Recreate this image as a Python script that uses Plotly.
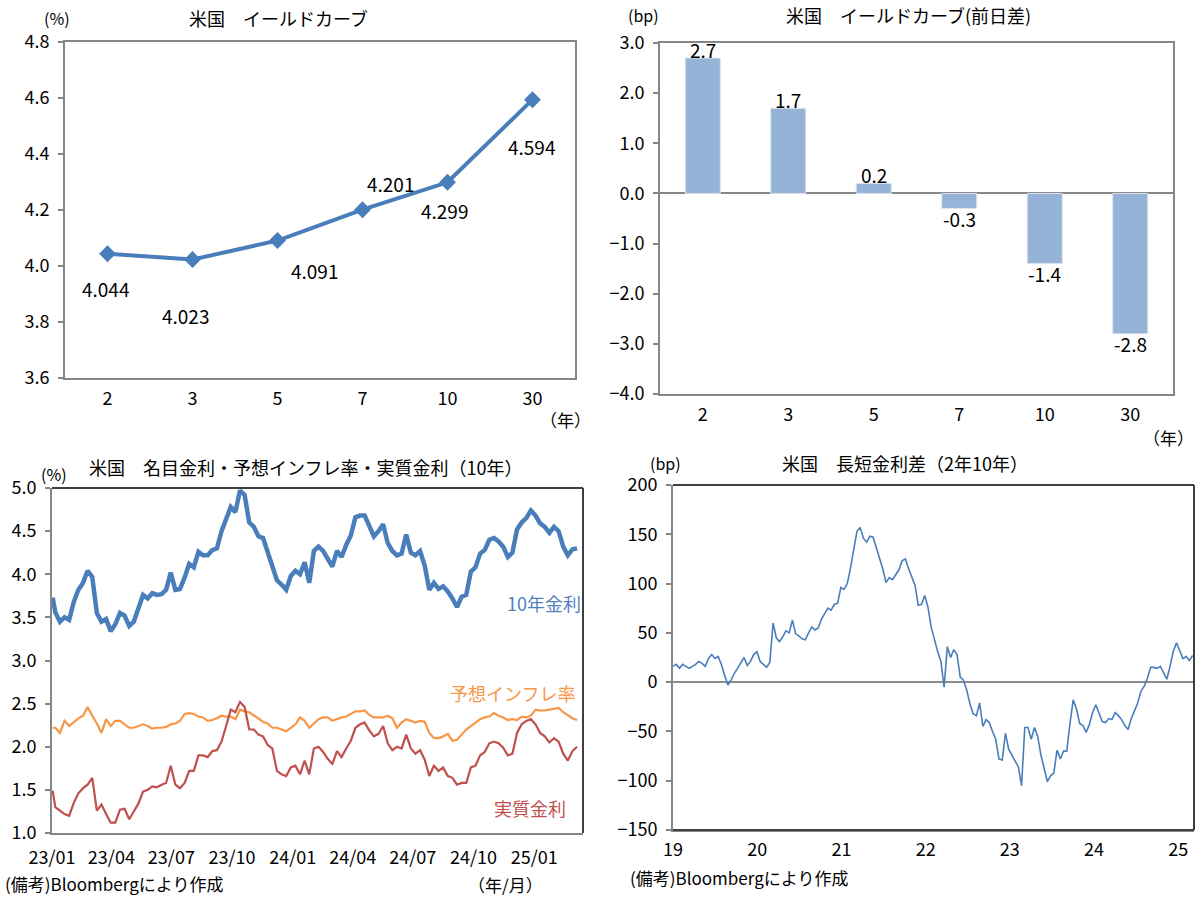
import pandas as pd
import plotly.graph_objects as go

# ---------------- data ----------------
# Panel 1: US yield curve
MATURITIES = ["2", "3", "5", "7", "10", "30"]
YIELDS = [4.044, 4.023, 4.091, 4.201, 4.299, 4.594]

# Panel 2: day-over-day change (bp)
CHANGE_BP = [2.7, 1.7, 0.2, -0.3, -1.4, -2.8]

DATES3 = (["2023-01-02"]
          + [d.strftime("%Y-%m-%d") for d in pd.date_range("2023-01-06", periods=113, freq="7D")]
          + ["2025-03-07"])
NOMINAL10 = [3.73,
    3.56, 3.45, 3.50, 3.47, 3.68, 3.82, 3.90, 4.04, 3.97, 3.55, 3.45, 3.48, 3.34, 3.42, 3.55, 3.52,
    3.40, 3.45, 3.62, 3.76, 3.72, 3.78, 3.76, 3.77, 3.82, 4.02, 3.82, 3.83, 3.96, 4.12, 4.08, 4.26,
    4.22, 4.22, 4.28, 4.30, 4.50, 4.66, 4.78,
    4.72, 4.97, 4.92, 4.60, 4.55, 4.44, 4.42, 4.26, 4.13, 3.93, 3.88, 3.82, 3.98, 4.04, 4.00, 4.14,
    3.90, 4.27, 4.32, 4.27, 4.18, 4.09, 4.27, 4.20, 4.34, 4.45, 4.66, 4.68, 4.68, 4.56, 4.44, 4.50,
    4.58, 4.36, 4.27, 4.22, 4.24, 4.46,
    4.25, 4.22, 4.27, 4.10, 3.82, 3.90, 3.83, 3.86, 3.80, 3.72, 3.62, 3.74, 3.76, 4.03, 4.08, 4.24,
    4.28, 4.40, 4.42, 4.38, 4.32, 4.20, 4.25, 4.52, 4.60, 4.65, 4.74, 4.68, 4.59, 4.55, 4.48, 4.55,
    4.50, 4.32, 4.22, 4.29,
    4.30]
BREAKEVEN10 = [2.22,
    2.22, 2.16, 2.30, 2.24, 2.29, 2.33, 2.36, 2.46, 2.36, 2.27, 2.16, 2.32, 2.24, 2.30, 2.30, 2.26,
    2.22, 2.22, 2.24, 2.26, 2.24, 2.21, 2.22, 2.22, 2.23, 2.26, 2.27, 2.30, 2.38, 2.39, 2.38, 2.35,
    2.34, 2.30, 2.31, 2.33, 2.36, 2.35, 2.35,
    2.32, 2.43, 2.41, 2.40, 2.36, 2.32, 2.29, 2.27, 2.22, 2.22, 2.20, 2.18, 2.22, 2.26, 2.34, 2.30,
    2.22, 2.27, 2.32, 2.34, 2.34, 2.30, 2.32, 2.34, 2.35, 2.38, 2.41, 2.41, 2.42, 2.37, 2.34, 2.34,
    2.34, 2.36, 2.33, 2.22, 2.28, 2.32,
    2.30, 2.28, 2.30, 2.29, 2.16, 2.10, 2.10, 2.12, 2.15, 2.07, 2.08, 2.14, 2.20, 2.24, 2.28, 2.32,
    2.34, 2.35, 2.39, 2.36, 2.34, 2.31, 2.32, 2.31, 2.35, 2.34, 2.36, 2.43, 2.42, 2.42, 2.43, 2.44,
    2.45, 2.40, 2.36, 2.33,
    2.31]
REAL10 = [1.49,
    1.30, 1.26, 1.22, 1.20, 1.35, 1.46, 1.52, 1.56, 1.64, 1.26, 1.33, 1.22, 1.12, 1.12, 1.27, 1.28,
    1.16, 1.25, 1.34, 1.48, 1.50, 1.54, 1.53, 1.56, 1.58, 1.78, 1.56, 1.52, 1.58, 1.72, 1.72, 1.90,
    1.90, 1.88, 1.95, 1.96, 2.06, 2.24, 2.43,
    2.40, 2.52, 2.46, 2.20, 2.20, 2.14, 2.12, 2.02, 1.98, 1.72, 1.68, 1.66, 1.76, 1.78, 1.68, 1.84,
    1.68, 1.98, 2.00, 1.94, 1.86, 1.80, 1.95, 1.88, 1.98, 2.07, 2.22, 2.26, 2.28, 2.19, 2.12, 2.15,
    2.24, 2.04, 1.96, 2.00, 1.98, 2.14,
    1.98, 1.92, 1.96, 1.85, 1.66, 1.78, 1.72, 1.76, 1.66, 1.64, 1.56, 1.58, 1.58, 1.76, 1.78, 1.90,
    1.94, 2.04, 2.06, 2.04, 1.99, 1.90, 1.92, 2.16, 2.26, 2.30, 2.32, 2.26, 2.16, 2.12, 2.05, 2.10,
    2.06, 1.92, 1.84, 1.95,
    2.00]

# Panel 4: 2y-10y spread (bp), every 14 days from 2019-01-01
DATES4 = [d.strftime("%Y-%m-%d") for d in pd.date_range("2019-01-01", periods=162, freq="14D")]
SPREAD_BP = [
    16, 18, 14, 18, 16, 14, 16, 18, 21, 19,
    16, 24, 28, 24, 26, 18, 7, -3, 2, 9,
    14, 19, 25, 17, 21, 28, 31, 21, 18, 15,
    20, 60, 45, 41, 46, 52, 50, 63, 49, 47,
    44, 43, 50, 56, 53, 55, 64, 70, 75, 73,
    79, 80, 96, 94, 100, 116, 136, 153, 157, 146,
    142, 148, 147, 137, 125, 115, 101, 106, 104, 109,
    114, 123, 125, 115, 106, 98, 78, 79, 88, 76,
    56, 43, 31, 21, -5, 36, 25, 33, 28, 5,
    2, -8, -22, -32, -34, -21, -45, -38, -41, -50,
    -58, -78, -79, -52, -68, -74, -80, -86, -105, -46,
    -46, -58, -46, -55, -74, -88, -101, -95, -92, -69,
    -78, -70, -70, -42, -18, -27, -42, -44, -51, -43,
    -31, -23, -32, -40, -41, -37, -38, -31, -34, -38,
    -44, -48, -37, -28, -21, -9, -4, 4, 15, 15,
    14, 16, 10, 3, 16, 31, 40, 31, 24, 26,
    22, 27]

# ---------------- style ----------------
W, H = 1200, 899
FONT = "Noto Sans CJK JP"
BLUE = "#4A7EBB"
BAR = "#95B3D7"
ORANGE = "#F79646"
RED = "#C0504D"
AXIS = "#868686"
DARK = "#3F3F3F"

# label offsets (pixels) for panel 1 data labels: (dx, dy) with dy positive = down
LABEL_OFFSETS = [(-2, 35), (-7, 56), (37, 30), (28, -26), (-3, 28), (-1, 47)]


def px(x):
    return x / W


def py(y):
    return 1 - y / H


fig = go.Figure()

# Panel 1
fig.add_trace(go.Scatter(x=MATURITIES, y=YIELDS, mode="lines+markers",
                         line=dict(color=BLUE, width=4),
                         marker=dict(symbol="diamond", size=13, color=BLUE),
                         xaxis="x", yaxis="y", cliponaxis=False))
# Panel 2
fig.add_trace(go.Bar(x=MATURITIES, y=CHANGE_BP,
                     marker=dict(color=BAR, line=dict(color="#DCE6F2", width=1)),
                     xaxis="x2", yaxis="y2"))
# Panel 3
fig.add_trace(go.Scatter(x=DATES3, y=NOMINAL10, mode="lines", line=dict(color=BLUE, width=4.5),
                         xaxis="x3", yaxis="y3"))
fig.add_trace(go.Scatter(x=DATES3, y=BREAKEVEN10, mode="lines", line=dict(color=ORANGE, width=2.2),
                         xaxis="x3", yaxis="y3"))
fig.add_trace(go.Scatter(x=DATES3, y=REAL10, mode="lines", line=dict(color=RED, width=2.2),
                         xaxis="x3", yaxis="y3"))
# Panel 4
fig.add_trace(go.Scatter(x=DATES4, y=SPREAD_BP, mode="lines", line=dict(color=BLUE, width=1.6),
                         xaxis="x4", yaxis="y4"))

tickfont = dict(family=FONT, size=18, color="black")

common_y = dict(showgrid=False, showline=True, linecolor=AXIS, linewidth=2, automargin=False,
                ticks="outside", ticklen=5, tickcolor=AXIS, tickwidth=1.5, tickfont=tickfont,
                ticklabelstandoff=5)
common_x = dict(showgrid=False, zeroline=False, showline=True, linecolor=AXIS, linewidth=2,
                automargin=False, ticks="", tickfont=tickfont)

fig.update_layout(
    width=W, height=H, margin=dict(l=0, r=0, t=0, b=0, autoexpand=False),
    paper_bgcolor="white", plot_bgcolor="white", showlegend=False,
    font=dict(family=FONT, color="black"),
    bargap=0.59,
    xaxis=dict(domain=[px(65), px(575)], anchor="y", type="category", range=[-0.5, 5.5],
               mirror=True, ticklabelstandoff=3, **common_x),
    yaxis=dict(domain=[py(378), py(42)], anchor="x", range=[3.6, 4.8], dtick=0.2, tickformat=".1f",
               mirror=True, zeroline=False, **common_y),
    xaxis2=dict(domain=[px(660), px(1173)], anchor="y2", type="category", range=[-0.5, 5.5],
                mirror=True, ticklabelstandoff=3, **common_x),
    yaxis2=dict(domain=[py(394), py(43)], anchor="x2", range=[-4, 3], dtick=1, tickformat=".1f",
                mirror=True, zeroline=True, zerolinecolor=AXIS, zerolinewidth=1.5, **common_y),
    xaxis3=dict(domain=[px(52), px(583)], anchor="y3", type="date",
                range=["2023-01-01", "2025-03-16"], tick0="2023-01-01", dtick="M3",
                tickformat="%y/%m", ticklabelstandoff=7, **common_x),
    yaxis3=dict(domain=[py(833), py(488)], anchor="x3", range=[1, 5], dtick=0.5, tickformat=".1f",
                zeroline=False, **common_y),
    xaxis4=dict(domain=[px(673), px(1194)], anchor="y4", type="date",
                range=["2019-01-01", "2025-03-10"], tick0="2019-01-01", dtick="M12",
                tickformat="%y", ticklabelstandoff=2, **common_x),
    yaxis4=dict(domain=[py(830), py(485)], anchor="x4", range=[-150, 200], dtick=50,
                zeroline=True, zerolinecolor="#8C8C8C", zerolinewidth=1.5, **common_y),
)

shapes = []
# dark top/right borders for panels 3 and 4, dark bottom for panel 4
for xr, yr, sides in (("x3 domain", "y3 domain", ("top", "right")),
                      ("x4 domain", "y4 domain", ("top", "right", "bottom"))):
    for s in sides:
        if s == "top":
            c = dict(x0=0, x1=1, y0=1, y1=1)
        elif s == "right":
            c = dict(x0=1, x1=1, y0=0, y1=1)
        else:
            c = dict(x0=0, x1=1, y0=0, y1=0)
        shapes.append(dict(type="line", xref=xr, yref=yr, line=dict(color=DARK, width=2), **c))
fig.update_layout(shapes=shapes)

ann = []


def text(x, y, s, size=18, color="black", xanchor="center"):
    ann.append(dict(x=px(x), y=py(y), xref="paper", yref="paper", text=s, showarrow=False,
                    xanchor=xanchor, yanchor="middle", font=dict(family=FONT, size=size, color=color)))


# titles and unit labels
text(278, 18, "米国　イールドカーブ")
text(57, 18, "(%)", size=16)
text(565, 419, "（年）", size=17)
text(909, 15, "米国　イールドカーブ(前日差)")
text(643, 15, "(bp)", size=16)
text(1168, 437, "（年）", size=17)
text(305, 467, "米国　名目金利・予想インフレ率・実質金利（10年）")
text(54, 474, "(%)", size=16)
text(3, 883, "(備考)Bloombergにより作成", size=17, xanchor="left")
text(505, 884, "（年/月）", size=17)
text(905, 463, "米国　長短金利差（2年10年）")
text(665, 463, "(bp)", size=16)
text(628, 877, "(備考)Bloombergにより作成", size=17, xanchor="left")

# series labels (panel 3)
text(544, 603, "10年金利", size=18, color="#4F81BD")
text(512, 693, "予想インフレ率", size=18, color=ORANGE)
text(530, 808, "実質金利", size=18, color=RED)

# data labels panel 1 (category index positions)
for i, (val, (dx, dy)) in enumerate(zip(YIELDS, LABEL_OFFSETS)):
    ann.append(dict(x=i, y=val, xref="x", yref="y", text=f"{val:.3f}", showarrow=False,
                    xshift=dx, yshift=-dy, font=dict(family=FONT, size=19, color="black")))
# data labels panel 2
for i, val in enumerate(CHANGE_BP):
    ann.append(dict(x=i, y=val, xref="x2", yref="y2", text=f"{val:.1f}", showarrow=False,
                    yshift=9 if val > 0 else -10, font=dict(family=FONT, size=19, color="black")))

fig.update_layout(annotations=ann)

fig.write_html("out.html")
